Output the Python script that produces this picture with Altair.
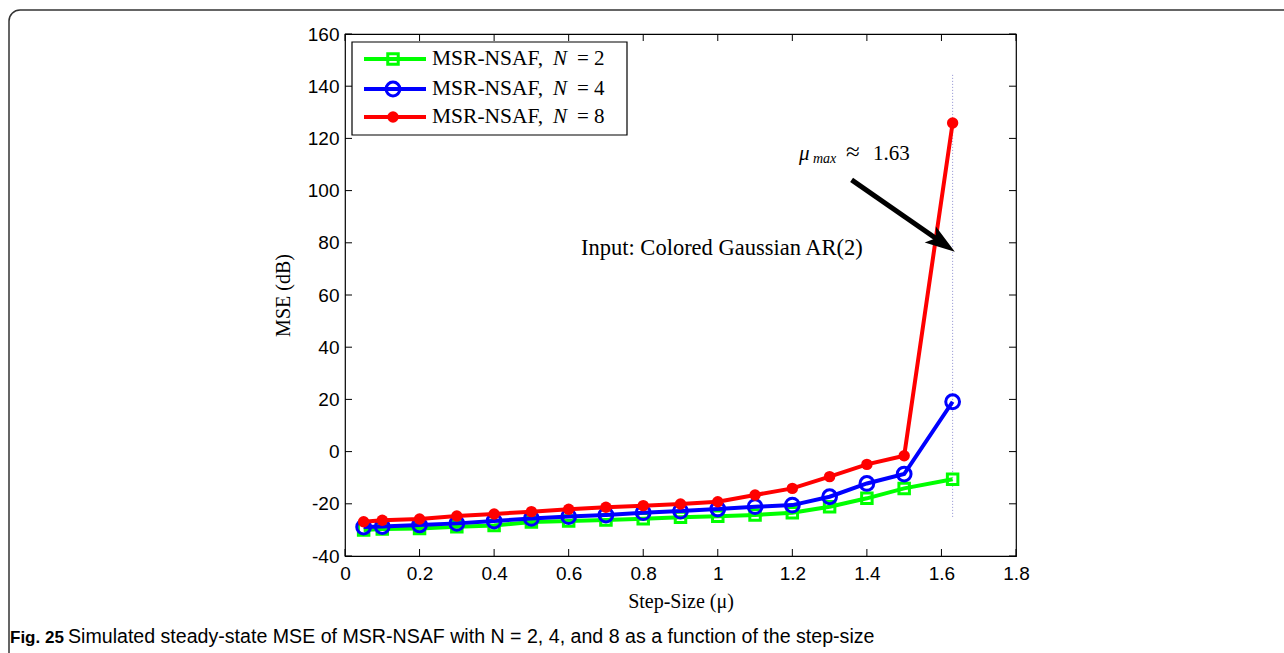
import altair as alt
import pandas as pd

# ---------------- data ----------------
mu = [0.05, 0.1, 0.2, 0.3, 0.4, 0.5, 0.6, 0.7, 0.8, 0.9, 1.0, 1.1, 1.2, 1.3, 1.4, 1.5, 1.63]
mse_n2 = [-30.0, -29.7, -29.5, -28.8, -28.3, -27.0, -26.6, -26.2, -25.7, -25.2, -24.8, -24.3, -23.4, -21.1, -17.9, -14.1, -10.6]
mse_n4 = [-28.9, -28.7, -28.1, -27.5, -26.6, -25.6, -24.9, -24.3, -23.4, -22.8, -22.0, -21.1, -20.5, -17.3, -12.2, -8.6, 19.1]
mse_n8 = [-26.9, -26.3, -25.8, -24.7, -23.9, -23.0, -22.1, -21.3, -20.7, -20.1, -19.2, -16.6, -14.1, -9.6, -4.9, -1.6, 125.9]

series_labels = ["MSR-NSAF,", "MSR-NSAF,", "MSR-NSAF,"]
series_n = ["= 2", "= 4", "= 8"]
series_colors = ["#00ff00", "#0000ff", "#ff0000"]
series_shapes = ["square", "circle", "circle"]
series_filled = [False, False, True]
series_sizes = [110, 190, 130]

x_ticks = [0, 0.2, 0.4, 0.6, 0.8, 1.0, 1.2, 1.4, 1.6, 1.8]
y_ticks = [-40, -20, 0, 20, 40, 60, 80, 100, 120, 140, 160]

vline_mu = [1.63]
vline_range = [-25, 145]

arrow_tail = [1.359, 104.1]
arrow_head = [1.603, 79.9]

W, H = 671, 522
SERIF = "Liberation Serif"
SANS = "Liberation Sans"

xs = alt.Scale(domain=[0, 1.8], nice=False, zero=False)
ys = alt.Scale(domain=[-40, 160], nice=False, zero=False)

one = alt.Data(values=[{"a": 1}])

layers = []

# outer rounded frame of the figure
layers.append(
    alt.Chart(one).mark_rect(fill="white", fillOpacity=0, stroke="#333333", strokeWidth=1.5, cornerRadius=11)
    .encode(x=alt.value(-336), x2=alt.value(960), y=alt.value(-24), y2=alt.value(650))
)

# axes (labels + titles only)
base_axis = alt.Chart(pd.DataFrame({"x": [0.0], "y": [0.0]})).mark_point(opacity=0).encode(
    x=alt.X("x:Q", scale=xs, title="Step-Size (μ)",
            axis=alt.Axis(values=x_ticks, labelExpr="'' + datum.value", titlePadding=8, labelPadding=8,
                          labelFlush=False)),
    y=alt.Y("y:Q", scale=ys, title="MSE (dB)",
            axis=alt.Axis(values=y_ticks, labelExpr="'' + datum.value", titlePadding=14, labelPadding=6,
                          labelFlush=False)),
)
layers.append(base_axis)

# inward ticks on four sides
xt = pd.DataFrame({"t": x_ticks})
yt = pd.DataFrame({"t": y_ticks})
for y1, y2 in [(H, H - 7), (0, 7)]:
    layers.append(alt.Chart(xt).mark_rule(color="black", strokeWidth=1).encode(
        x=alt.X("t:Q", scale=xs), y=alt.value(y1), y2=alt.value(y2)))
for x1, x2 in [(0, 7), (W, W - 7)]:
    layers.append(alt.Chart(yt).mark_rule(color="black", strokeWidth=1).encode(
        y=alt.Y("t:Q", scale=ys), x=alt.value(x1), x2=alt.value(x2)))

# vertical dotted line at mu_max
layers.append(alt.Chart(pd.DataFrame({"m": vline_mu, "a": [vline_range[0]], "b": [vline_range[1]]}))
              .mark_rule(color="#8c8cd0", strokeWidth=1, strokeDash=[1, 2])
              .encode(x=alt.X("m:Q", scale=xs), y=alt.Y("a:Q", scale=ys), y2="b:Q"))

# series
for vals, col, shp, fil, sz in zip([mse_n2, mse_n4, mse_n8], series_colors, series_shapes, series_filled, series_sizes):
    df = pd.DataFrame({"mu": mu, "mse": vals})
    layers.append(alt.Chart(df).mark_line(color=col, strokeWidth=4).encode(
        x=alt.X("mu:Q", scale=xs), y=alt.Y("mse:Q", scale=ys)))
    layers.append(alt.Chart(df).mark_point(color=col, shape=shp, filled=fil, size=sz, strokeWidth=3, opacity=1).encode(
        x=alt.X("mu:Q", scale=xs), y=alt.Y("mse:Q", scale=ys)))

# arrow annotation
adf = pd.DataFrame({"x": [arrow_tail[0]], "y": [arrow_tail[1]], "x2": [arrow_head[0]], "y2": [arrow_head[1]]})
layers.append(alt.Chart(adf).mark_rule(color="black", strokeWidth=5).encode(
    x=alt.X("x:Q", scale=xs), y=alt.Y("y:Q", scale=ys), x2="x2:Q", y2="y2:Q"))
layers.append(alt.Chart(adf).mark_point(color="black", filled=True, opacity=1, size=900, angle=35,
                                        shape="M1,0L-1,-0.65L-0.55,0L-1,0.65Z").encode(
    x=alt.X("x2:Q", scale=xs), y=alt.Y("y2:Q", scale=ys)))

# annotation texts
def txt(s, x, y, size=21, style="normal", weight="normal", font=SERIF, align="left"):
    return alt.Chart(one).mark_text(text=s, font=font, fontSize=size, fontStyle=style, fontWeight=weight,
                                    align=align, baseline="alphabetic", color="black").encode(
        x=alt.value(x), y=alt.value(y))

layers.append(txt("μ", 454, 126, 21, "italic"))
layers.append(txt("max", 468, 129, 14, "italic"))
layers.append(txt("≈", 501, 126, 25))
layers.append(txt("1.63", 528, 126, 21))
layers.append(txt("Input:  Colored Gaussian AR(2)", 236, 221, 22.5))

# legend
layers.append(alt.Chart(one).mark_rect(fill="white", stroke="black", strokeWidth=1.2).encode(
    x=alt.value(7), x2=alt.value(282), y=alt.value(8), y2=alt.value(101)))
row_y = [25, 55, 83]
for i in range(3):
    layers.append(alt.Chart(one).mark_rule(color=series_colors[i], strokeWidth=4).encode(
        x=alt.value(19), x2=alt.value(81), y=alt.value(row_y[i])))
    layers.append(alt.Chart(one).mark_point(color=series_colors[i], shape=series_shapes[i], filled=series_filled[i],
                                            size=series_sizes[i], strokeWidth=3, opacity=1).encode(
        x=alt.value(48), y=alt.value(row_y[i])))
    layers.append(txt(series_labels[i], 87, row_y[i] + 6, 21.5))
    layers.append(txt("N", 208, row_y[i] + 6, 21, "italic"))
    layers.append(txt(series_n[i], 232, row_y[i] + 6, 21))

# caption
layers.append(txt("Fig. 25", -335, 609, 17, weight="bold", font=SANS))
layers.append(txt("Simulated steady-state MSE of MSR-NSAF with N = 2, 4, and 8 as a function of the step-size",
                  -277, 609, 19.6, font=SANS))

chart = alt.layer(*layers).properties(
    width=W, height=H,
    padding={"left": 345, "top": 34, "right": 1284 - 345 - W, "bottom": 653 - 34 - H},
    autosize=alt.AutoSizeParams(type="none"),
    background="white",
).configure_view(stroke="black", strokeWidth=1.2).configure_axis(
    domain=False, ticks=False, grid=False,
    labelFont=SANS, labelFontSize=19, labelColor="black",
    titleFont=SERIF, titleFontSize=20, titleFontWeight="normal", titleColor="black",
)

chart.save("out.html", embed_options={"renderer": "svg", "actions": False})
